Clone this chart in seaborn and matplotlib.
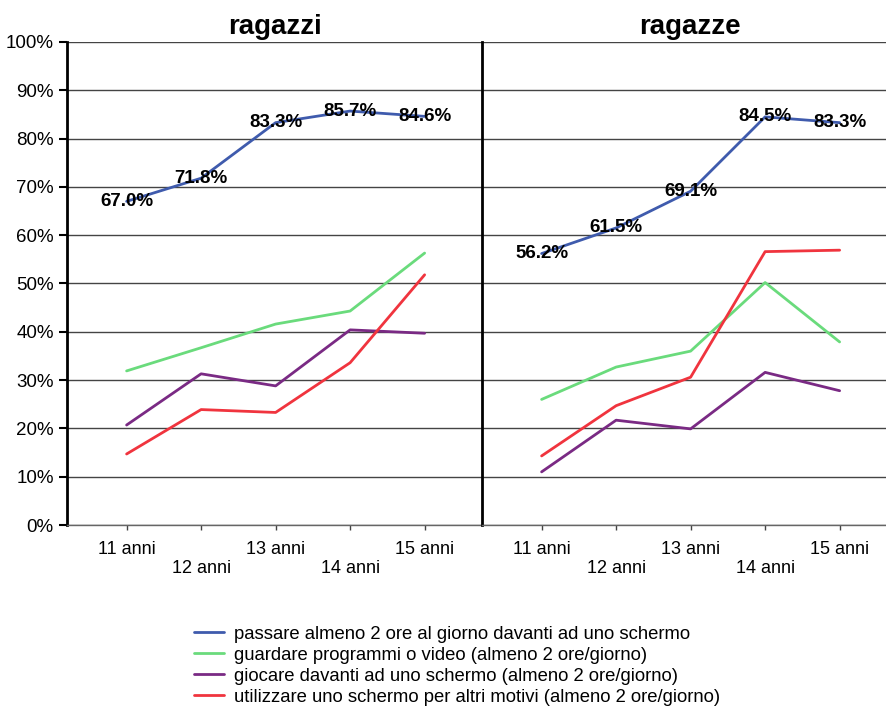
import pandas as pd
import matplotlib.pyplot as plt
import seaborn as sns

ages = ["11 anni", "12 anni", "13 anni", "14 anni", "15 anni"]
series = [
    "passare almeno 2 ore al giorno davanti ad uno schermo",
    "guardare programmi o video (almeno 2 ore/giorno)",
    "giocare davanti ad uno schermo (almeno 2 ore/giorno)",
    "utilizzare uno schermo per altri motivi (almeno 2 ore/giorno)",
]
colors = ["#3F5BAD", "#6ADB7C", "#7A2A84", "#F0343E"]

# ragazzi
boys_screen = [67.0, 71.8, 83.3, 85.7, 84.6]
boys_video = [31.9, 36.7, 41.6, 44.3, 56.3]
boys_games = [20.7, 31.3, 28.8, 40.4, 39.7]
boys_other = [14.7, 23.9, 23.3, 33.6, 51.8]

# ragazze
girls_screen = [56.2, 61.5, 69.1, 84.5, 83.3]
girls_video = [26.0, 32.7, 36.0, 50.2, 37.9]
girls_games = [11.0, 21.7, 19.9, 31.6, 27.8]
girls_other = [14.3, 24.7, 30.6, 56.6, 56.9]

panels = {
    "ragazzi": [boys_screen, boys_video, boys_games, boys_other],
    "ragazze": [girls_screen, girls_video, girls_games, girls_other],
}

rows = []
for panel, vals in panels.items():
    for name, v in zip(series, vals):
        for i, val in enumerate(v):
            rows.append({"panel": panel, "serie": name, "x": i, "val": val})
df = pd.DataFrame(rows)

sns.set_style("white")
plt.rcParams["font.family"] = ["Liberation Sans", "DejaVu Sans"]
plt.rcParams["text.color"] = "black"
plt.rcParams["xtick.color"] = "black"
plt.rcParams["ytick.color"] = "black"

fig = plt.figure(figsize=(8.86, 7.09), dpi=100)
ax_w = 415 / 886
axes = [fig.add_axes([67 / 886, 1 - 525 / 709, ax_w, 483 / 709]),
        fig.add_axes([482 / 886, 1 - 525 / 709, ax_w, 483 / 709])]

for ax, (panel, vals) in zip(axes, panels.items()):
    sub = df[df["panel"] == panel]
    sns.lineplot(data=sub, x="x", y="val", hue="serie", hue_order=series,
                 palette=colors, linewidth=2, ax=ax, legend=(panel == "ragazzi"))
    for i, v in enumerate(vals[0]):
        ax.text(i, v, f"{v:.1f}%", ha="center", va="center",
                fontsize=13.5, fontweight="bold", color="black")
    ax.set_xlim(-0.8, 4.77)
    ax.set_ylim(0, 100)
    ax.set_yticks(range(0, 101, 10))
    ax.grid(axis="y", color="#444444", linewidth=1)
    ax.set_axisbelow(True)
    ax.set_xticks(range(5))
    ax.set_xticklabels(ages, fontsize=13)
    ax.set_xlabel("")
    ax.set_ylabel("")
    ax.set_title(panel, fontsize=20, fontweight="bold", pad=6, color="black")
    for s in ["top", "right"]:
        ax.spines[s].set_visible(False)
    ax.spines["left"].set_linewidth(2)
    ax.spines["left"].set_color("black")
    ax.spines["bottom"].set_color("#666666")
    ax.spines["bottom"].set_linewidth(1)
    ax.tick_params(axis="x", direction="out", color="#444444", width=1, bottom=True)
    for j, t in enumerate(ax.xaxis.get_major_ticks()):
        if j % 2 == 1:
            t.tick1line.set_markersize(24)
            t.set_pad(22)
        else:
            t.tick1line.set_markersize(8)
            t.set_pad(8)

axes[0].set_yticklabels([f"{v}%" for v in range(0, 101, 10)], fontsize=13.5)
axes[0].tick_params(axis="y", direction="out", length=6, width=1.5, left=True, color="black")
axes[1].set_yticklabels([])
axes[1].tick_params(axis="y", left=False)

handles, labels = axes[0].get_legend_handles_labels()
axes[0].get_legend().remove()
fig.legend(handles, labels, loc="center", bbox_to_anchor=(0.516, 0.061),
           frameon=False, fontsize=13.3, handlelength=1.6, labelspacing=0.22,
           handletextpad=0.55)

plt.savefig("out.png", dpi=100)
